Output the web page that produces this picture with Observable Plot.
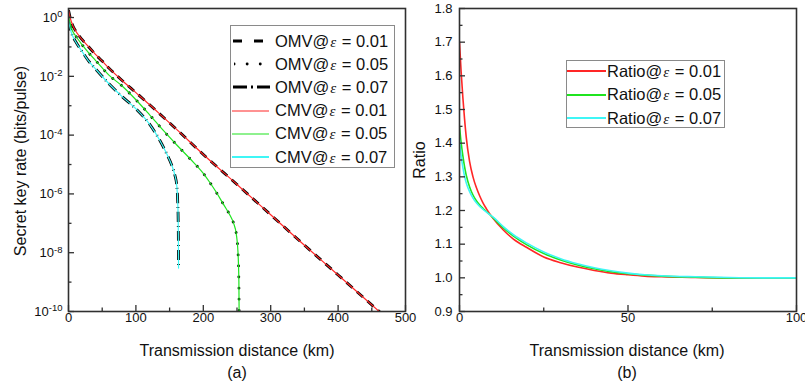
<!DOCTYPE html>
<html><head><meta charset="utf-8">
<script src="https://cdn.jsdelivr.net/npm/d3@7"></script>
<script src="https://cdn.jsdelivr.net/npm/@observablehq/plot@0.6"></script>
<style>
body{margin:0;background:#fff;font-family:"Liberation Sans",Arial,sans-serif;}
#wrap{position:relative;width:805px;height:385px;overflow:hidden;background:#fff;}
.p{position:absolute;top:0}
.t{position:absolute;font-size:16px;color:#111;white-space:nowrap;transform:translate(-50%,-50%)}
.leg{position:absolute;border:1px solid #8a8a8a;background:#fff;box-sizing:border-box}
.row{position:absolute;left:0;height:22px;display:flex;align-items:center;font-size:16.5px;color:#111;white-space:nowrap;transform:translateY(-50%)}
.row svg{flex:none}
.eps{font-family:"Liberation Serif",serif;font-style:italic;font-size:15px;margin:0 1px}
</style></head><body><div id="wrap"></div>
<script>
// ---------- Panel (a): secret key rate vs distance ----------
const km01 = [0, 1, 3, 6, 10, 20, 30, 40, 50, 60, 80, 100, 120, 140, 160, 200, 250, 300, 350, 400, 460, 470];
const rate01 = [1.78, 1.41, 0.89, 0.56, 0.37, 0.18, 0.1, 0.056, 0.033, 0.019, 7.1e-3, 2.8e-3, 1.1e-3, 4.2e-4, 1.6e-4, 2.2e-5, 2.1e-6, 1.95e-7, 1.8e-8, 1.75e-9, 1.05e-10, 6.6e-11];
const km05 = [0, 1, 3, 6, 10, 20, 30, 40, 60, 80, 100, 120, 140, 160, 180, 200, 210, 220, 230, 240, 245, 249, 251.4, 252.8, 253.2];
const rate05 = [1.12, 0.89, 0.56, 0.35, 0.25, 0.12, 0.063, 0.035, 0.011, 4.6e-3, 1.6e-3, 5.0e-4, 1.5e-4, 4.8e-5, 1.6e-5, 5.0e-6, 2.4e-6, 1.07e-6, 4.4e-7, 1.8e-7, 1.0e-7, 4.2e-8, 1.1e-8, 1.05e-9, 6.3e-11];
const km07 = [0, 1, 3, 6, 10, 20, 30, 40, 60, 80, 100, 120, 136, 145, 153.6, 158, 160.5, 162, 162.8, 163.1, 163.3];
const rate07 = [0.79, 0.6, 0.38, 0.24, 0.16, 0.071, 0.033, 0.018, 5.6e-3, 2.0e-3, 7.9e-4, 2.4e-4, 6.3e-5, 2.5e-5, 8.9e-6, 4.2e-6, 2.0e-6, 5.6e-7, 1.0e-7, 1.6e-8, 3.0e-9];
// OMV curves coincide with CMV curves
const keyLabels = ["OMV@ε = 0.01", "OMV@ε = 0.05", "OMV@ε = 0.07", "CMV@ε = 0.01", "CMV@ε = 0.05", "CMV@ε = 0.07"];
const xTicksA = [0, 100, 200, 300, 400, 500];
const xMinorA = [50, 150, 250, 350, 450];
const yTicksA = [1, 1e-2, 1e-4, 1e-6, 1e-8, 1e-10];
const yMinorA = [1e-1, 1e-3, 1e-5, 1e-7, 1e-9];

// ---------- Panel (b): ratio vs distance ----------
const kmR = [0, 0.5, 1, 1.5, 2, 3, 4, 5, 6, 7, 8, 10, 13, 16, 20, 25, 30, 35, 40, 45, 50, 55, 60, 70, 80, 90, 100];
const ratio01 = [1.70, 1.61, 1.535, 1.472, 1.418, 1.345, 1.30, 1.268, 1.243, 1.222, 1.205, 1.176, 1.142, 1.115, 1.09, 1.062, 1.045, 1.032, 1.022, 1.014, 1.009, 1.005, 1.003, 1.001, 1.0, 1.0, 1.0];
const ratio05 = [1.45, 1.40, 1.362, 1.33, 1.305, 1.27, 1.246, 1.229, 1.216, 1.206, 1.197, 1.178, 1.148, 1.124, 1.098, 1.072, 1.053, 1.038, 1.027, 1.018, 1.012, 1.008, 1.005, 1.002, 1.0, 1.0, 1.0];
const ratio07 = [1.41, 1.362, 1.328, 1.302, 1.282, 1.256, 1.237, 1.223, 1.212, 1.203, 1.195, 1.18, 1.152, 1.128, 1.103, 1.077, 1.057, 1.042, 1.03, 1.021, 1.014, 1.009, 1.006, 1.003, 1.001, 1.0, 1.0];
const ratioLabels = ["Ratio@ε = 0.01", "Ratio@ε = 0.05", "Ratio@ε = 0.07"];
const xTicksB = [0, 50, 100];
const xMinorB = [25, 75];
const yTicksB = [0.9, 1.0, 1.1, 1.2, 1.3, 1.4, 1.5, 1.6, 1.7, 1.8];
const yMinorB = [0.95, 1.05, 1.15, 1.25, 1.35, 1.45, 1.55, 1.65, 1.75];

const RED = "#ff2626", GREEN = "#1fe41f", CYAN = "#3ff6f6", AX = "#303030";
const toRows = (xs, ys) => xs.map((x, i) => ({x, y: ys[i]}));

const W = 410, H = 385, MT = 8, MB = 74;
const style = {fontFamily: '"Liberation Sans", Arial, sans-serif', fontSize: "13px", color: "#111", background: "transparent", overflow: "visible"};
const TK = 6, TM = 3.5;

const blackDash = [{d: toRows(km01, rate01), dash: "8,6"}, {d: toRows(km05, rate05), dash: "0.1,11"}, {d: toRows(km07, rate07), dash: "10,4,1,4"}];
const colored = [{d: toRows(km01, rate01), c: RED}, {d: toRows(km05, rate05), c: GREEN}, {d: toRows(km07, rate07), c: CYAN}];

const innerHA = H - MT - MB, innerWA = W - 68 - 5;
const plotA = Plot.plot({
  width: W, height: H, marginLeft: 68, marginRight: 5, marginTop: MT, marginBottom: MB,
  style,
  x: {domain: [0, 500]},
  y: {type: "log", domain: [1e-10, 2.03]},
  marks: [
    ...blackDash.map(s => Plot.line(s.d, {x: "x", y: "y", stroke: "#000", strokeWidth: 2.8, strokeDasharray: s.dash, strokeLinecap: s.dash.startsWith("0.1") ? "round" : "butt", curve: "monotone-x", clip: true})),
    ...colored.map(s => Plot.line(s.d, {x: "x", y: "y", stroke: s.c, strokeWidth: 1.2, curve: "monotone-x", clip: true})),
    Plot.tickX(xTicksA, {x: d => d, insetTop: innerHA - TK, stroke: AX, strokeWidth: 1.3}),
    Plot.tickX(xMinorA, {x: d => d, insetTop: innerHA - TM, stroke: AX, strokeWidth: 1.3}),
    Plot.tickY(yTicksA, {y: d => d, insetRight: innerWA - TK, stroke: AX, strokeWidth: 1.3}),
    Plot.tickY(yMinorA, {y: d => d, insetRight: innerWA - TM, stroke: AX, strokeWidth: 1.3}),
    Plot.axisX({ticks: xTicksA, tickSize: 0, tickPadding: 1, fontSize: 13, label: null, tickFormat: d => String(d)}),
    Plot.axisY({ticks: yTicksA, tickSize: 0, tickPadding: 6, fontSize: 13, label: null, tickFormat: d => "10^" + Math.round(Math.log10(d))}),
    Plot.frame({stroke: AX, strokeWidth: 1.6})
  ]
});

const WB = 395, MLB = 49, MRB = 9;
const innerHB = H - MT - MB, innerWB = WB - MLB - MRB;
const plotB = Plot.plot({
  width: WB, height: H, marginLeft: MLB, marginRight: MRB, marginTop: MT, marginBottom: MB,
  style,
  x: {domain: [0, 100]},
  y: {domain: [0.9, 1.8]},
  marks: [
    Plot.line(toRows(kmR, ratio01), {x: "x", y: "y", stroke: RED, strokeWidth: 1.6, curve: "monotone-x", clip: true}),
    Plot.line(toRows(kmR, ratio05), {x: "x", y: "y", stroke: GREEN, strokeWidth: 1.6, curve: "monotone-x", clip: true}),
    Plot.line(toRows(kmR, ratio07), {x: "x", y: "y", stroke: CYAN, strokeWidth: 1.6, curve: "monotone-x", clip: true}),
    Plot.tickX(xTicksB, {x: d => d, insetTop: innerHB - TK, stroke: AX, strokeWidth: 1.3}),
    Plot.tickX(xMinorB, {x: d => d, insetTop: innerHB - TM, stroke: AX, strokeWidth: 1.3}),
    Plot.tickY(yTicksB, {y: d => d, insetRight: innerWB - TK, stroke: AX, strokeWidth: 1.3}),
    Plot.tickY(yMinorB, {y: d => d, insetRight: innerWB - TM, stroke: AX, strokeWidth: 1.3}),
    Plot.axisX({ticks: xTicksB, tickSize: 0, tickPadding: 1, fontSize: 13, label: null, tickFormat: d => String(d)}),
    Plot.axisY({ticks: yTicksB, tickSize: 0, tickPadding: 7, fontSize: 13, label: null, tickFormat: d3.format(".1f")}),
    Plot.frame({stroke: AX, strokeWidth: 1.6})
  ]
});

// superscript exponents on log axis
d3.select(plotA).selectAll('g[aria-label="y-axis tick label"] text').each(function () {
  const s = this.textContent;
  const m = /^10\^(.*)$/.exec(s);
  if (!m) return;
  const t = d3.select(this);
  t.text("10");
  t.append("tspan").attr("dy", "-0.45em").attr("font-size", "9.5px").text(m[1]);
});

const wrap = document.getElementById("wrap");
plotA.classList.add("p"); plotA.style.left = "0px";
plotB.classList.add("p"); plotB.style.left = W + "px";
wrap.appendChild(plotA); wrap.appendChild(plotB);

function addText(txt, x, y, rot) {
  const d = document.createElement("div");
  d.className = "t"; d.textContent = txt;
  d.style.left = x + "px"; d.style.top = y + "px";
  if (rot) d.style.transform = "translate(-50%,-50%) rotate(-90deg)";
  wrap.appendChild(d);
}
addText("Secret key rate (bits/pulse)", 21, 161, true);
addText("Transmission distance (km)", 237, 351);
addText("(a)", 237, 373);
addText("Ratio", 420, 160, true);
addText("Transmission distance (km)", 627, 351);
addText("(b)", 627, 373);

function legendLabel(row, lab) {
  const el = document.createElement("span");
  el.style.whiteSpace = "pre";
  const [a, b] = lab.split("ε");
  el.append(document.createTextNode(a));
  const e = document.createElement("span"); e.className = "eps"; e.textContent = "ε";
  el.append(e);
  el.append(document.createTextNode(b));
  row.appendChild(el);
}
function sample(color, width, dash, len, cap) {
  const ns = "http://www.w3.org/2000/svg";
  const s = document.createElementNS(ns, "svg");
  s.setAttribute("width", len); s.setAttribute("height", 10);
  const l = document.createElementNS(ns, "line");
  l.setAttribute("x1", 0); l.setAttribute("x2", len); l.setAttribute("y1", 5); l.setAttribute("y2", 5);
  l.setAttribute("stroke", color); l.setAttribute("stroke-width", width);
  if (dash) l.setAttribute("stroke-dasharray", dash);
  if (cap) l.setAttribute("stroke-linecap", cap);
  s.appendChild(l);
  return s;
}
// legend (a)
const legA = document.createElement("div");
legA.className = "leg";
Object.assign(legA.style, {left: "230px", top: "25px", width: "165px", height: "143px"});
const legAStyles = [
  {c: "#000", w: 2.8, dash: "9,12", cap: "butt", off: 2},
  {c: "#000", w: 2.8, dash: "0.1,13", cap: "round", off: 3},
  {c: "#000", w: 2.8, dash: "14,4,2,4", cap: "butt", off: 2},
  {c: RED, w: 1.2, dash: null, off: 1},
  {c: GREEN, w: 1.2, dash: null, off: 1},
  {c: CYAN, w: 2, dash: null, off: 1}
];
keyLabels.forEach((lab, i) => {
  const r = document.createElement("div");
  r.className = "row";
  r.style.top = (15 + i * 23.2) + "px";
  const st = legAStyles[i];
  const sv = sample(st.c, st.w, st.dash, 37, st.cap);
  sv.style.marginLeft = st.off + "px"; sv.style.marginRight = (44 - 37 - st.off) + "px";
  r.appendChild(sv);
  legendLabel(r, lab);
  legA.appendChild(r);
});
wrap.appendChild(legA);
// legend (b)
const legB = document.createElement("div");
legB.className = "leg";
Object.assign(legB.style, {left: "566px", top: "60px", width: "159px", height: "68px"});
[RED, GREEN, CYAN].forEach((c, i) => {
  const r = document.createElement("div");
  r.className = "row";
  r.style.top = (10 + i * 23.5) + "px";
  const sv = sample(c, 2, null, 39);
  sv.style.marginRight = "1px";
  r.appendChild(sv);
  legendLabel(r, ratioLabels[i]);
  legB.appendChild(r);
});
wrap.appendChild(legB);
</script></body></html>
